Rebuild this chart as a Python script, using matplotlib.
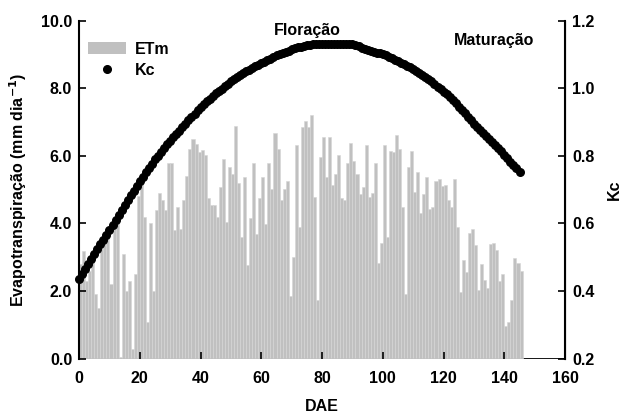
import numpy as np
import matplotlib
matplotlib.use("Agg")
import matplotlib.pyplot as plt
from matplotlib.patches import Patch
from matplotlib.lines import Line2D

plt.rcParams["font.family"] = ["Liberation Sans", "DejaVu Sans"]
plt.rcParams["font.weight"] = "bold"
plt.rcParams["mathtext.default"] = "bf"

# Daily maximum evapotranspiration (mm/day), days 0..145
etm = [
    2.8, 3.2, 2.3, 2.6, 2.9, 1.9, 1.5, 3.4, 3.6, 3.6,
    2.2, 3.9, 4.1, 0.05, 3.1, 2.0, 2.3, 0.3, 2.5, 4.8,
    5.2, 4.2, 1.1, 4.0, 2.0, 4.4, 4.9, 4.7, 4.4, 5.8,
    5.8, 3.8, 4.5, 3.85, 4.7, 5.4, 6.2, 6.5, 6.35, 6.1,
    6.18, 6.03, 4.74, 4.56, 4.56, 4.2, 5.08, 5.91, 4.04, 5.67,
    5.45, 6.87, 5.2, 3.61, 5.38, 2.77, 4.15, 5.79, 3.68, 4.74,
    5.38, 3.97, 5.79, 5.03, 6.68, 6.21, 4.68, 5.02, 5.27, 1.84,
    3.02, 6.33, 3.9, 6.85, 7.02, 6.85, 7.2, 4.79, 1.73,
    5.96, 6.56, 5.38, 6.56, 5.15, 5.45, 6.03, 4.74, 4.68, 5.79,
    6.38, 5.86, 5.45, 4.86, 5.08, 6.33, 4.79, 4.9, 5.79, 2.84,
    3.43, 6.33, 3.61, 6.15, 6.12, 6.63, 6.21, 4.49, 1.91, 5.67,
    6.15, 4.93, 5.52, 4.32, 4.86, 5.38, 4.44, 4.49, 5.27,
    5.32, 5.1, 5.13, 4.68, 4.49, 5.32, 3.9, 1.96, 2.91, 2.55,
    3.73, 3.85, 3.36, 2.03, 2.79, 2.32, 2.08, 3.38, 3.43, 3.21,
    2.3, 2.5, 0.97, 1.1, 1.73, 2.99, 2.84, 2.6,
]

# Crop coefficient, days 0..145
kc = [
    0.435, 0.45, 0.465, 0.48, 0.495, 0.51, 0.524, 0.538, 0.552, 0.566,
    0.58, 0.595, 0.61, 0.625, 0.64, 0.655, 0.669, 0.683, 0.697, 0.711,
    0.725, 0.738, 0.751, 0.764, 0.777, 0.79, 0.801, 0.812, 0.823, 0.834,
    0.845, 0.855, 0.865, 0.875, 0.885, 0.895, 0.905, 0.915, 0.925, 0.935,
    0.945, 0.953, 0.961, 0.969, 0.977, 0.985, 0.992, 0.999, 1.006, 1.013,
    1.02, 1.026, 1.032, 1.038, 1.044, 1.05, 1.055, 1.06, 1.065, 1.07,
    1.075, 1.079, 1.083, 1.088, 1.092, 1.097, 1.101, 1.104, 1.108, 1.111,
    1.115, 1.118, 1.121, 1.123, 1.126, 1.128, 1.129, 1.13, 1.13, 1.13,
    1.13, 1.13, 1.13, 1.13, 1.13, 1.13, 1.13, 1.13, 1.13, 1.13,
    1.13, 1.128, 1.124, 1.12, 1.116, 1.113, 1.11, 1.108, 1.105, 1.103,
    1.1, 1.097, 1.093, 1.089, 1.085, 1.08, 1.076, 1.071, 1.066, 1.062,
    1.057, 1.051, 1.046, 1.04, 1.034, 1.028, 1.02, 1.013, 1.005, 0.997,
    0.99, 0.982, 0.974, 0.965, 0.955, 0.945, 0.936, 0.926, 0.915, 0.905,
    0.895, 0.886, 0.876, 0.867, 0.858, 0.849, 0.84, 0.831, 0.822, 0.813,
    0.803, 0.793, 0.783, 0.773, 0.763, 0.753,
]

days_etm = np.arange(len(etm))
days_kc = np.arange(len(kc))

left_ticks = [0, 2, 4, 6, 8, 10]
right_ticks = [0.2, 0.4, 0.6, 0.8, 1.0, 1.2]
x_ticks = [0, 20, 40, 60, 80, 100, 120, 140, 160]

FS = 11.5

fig = plt.figure(figsize=(6.23, 4.13), dpi=100)
ax = fig.add_axes([0.127, 0.1315, 0.78, 0.8185])

ax.bar(days_etm, etm, width=1.0, align="edge", color="#c0c0c0",
       edgecolor="#d6d6d6", linewidth=0.4, zorder=1)
ax.axhline(0, color="black", lw=2, zorder=0.5)

ax.set_xlim(0, 160)
ax.set_ylim(0, 10)
ax.set_xticks(x_ticks)
ax.set_yticks(left_ticks)
ax.set_yticklabels([f"{v:.1f}" for v in left_ticks])
ax.spines["top"].set_visible(False)
ax.spines["bottom"].set_visible(False)
ax.spines["left"].set_linewidth(1.5)
ax.tick_params(axis="both", direction="in", length=5, width=1.2, labelsize=FS, pad=5)
ax.tick_params(axis="x", pad=9)
ax.set_xlabel("DAE", fontsize=FS, fontweight="bold")
ax.xaxis.set_label_coords(0.5, -0.118)
ax.set_ylabel("Evapotranspiração (mm dia$^{-1}$)", fontsize=FS, fontweight="bold")
ax.yaxis.set_label_coords(-0.103, 0.5)

ax2 = ax.twinx()
ax2.scatter(days_kc, kc, s=30, color="black", zorder=3, clip_on=False)
ax2.set_ylim(0.2, 1.2)
ax2.set_yticks(right_ticks)
ax2.set_yticklabels([f"{v:.1f}" for v in right_ticks])
ax2.spines["top"].set_visible(False)
ax2.spines["bottom"].set_visible(False)
ax2.spines["left"].set_visible(False)
ax2.spines["right"].set_linewidth(1.5)
ax2.tick_params(axis="y", direction="in", length=5, width=1.2, labelsize=FS, pad=5)
ax2.set_ylabel("Kc", fontsize=FS, fontweight="bold")
ax2.yaxis.set_label_coords(1.086, 0.5)

for lbl in ax.get_xticklabels() + ax.get_yticklabels() + ax2.get_yticklabels():
    lbl.set_fontweight("bold")

ax.text(75, 9.72, "Floração", ha="center", va="center", fontsize=FS, fontweight="bold")
ax.text(136.5, 9.40, "Maturação", ha="center", va="center", fontsize=FS, fontweight="bold")

handles = [Patch(facecolor="#c0c0c0", edgecolor="none"),
           Line2D([], [], marker="o", color="black", linestyle="none", markersize=5.5)]
leg = ax.legend(handles, ["ETm", "Kc"], loc="upper left", bbox_to_anchor=(0.0185, 0.938),
                frameon=False, fontsize=FS, handlelength=2.35, handleheight=0.7,
                handletextpad=0.56, labelspacing=0.4, borderaxespad=0, borderpad=0)
for t in leg.get_texts():
    t.set_fontweight("bold")

fig.savefig("out.png", dpi=100)
